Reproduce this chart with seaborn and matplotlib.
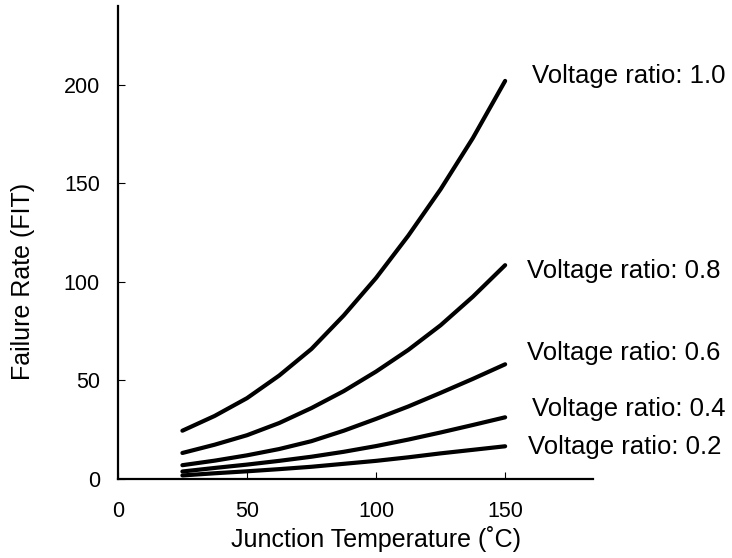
import pandas as pd
import seaborn as sns
from matplotlib import pyplot as plt

# junction temperature (degC) and failure rate (FIT) per voltage ratio
temps = [25, 37.5, 50, 62.5, 75, 87.5, 100, 112.5, 125, 137.5, 150]
fit_10 = [24.5, 32.0, 41.0, 52.5, 66.0, 83.0, 102.0, 123.5, 147.0, 173.0, 202.0]
fit_08 = [13.2, 17.4, 22.2, 28.4, 36.0, 44.6, 54.5, 65.5, 78.0, 92.5, 108.5]
fit_06 = [7.0, 9.3, 12.0, 15.2, 19.2, 24.5, 30.5, 36.8, 43.7, 50.8, 58.2]
fit_04 = [3.8, 5.6, 7.3, 9.2, 11.3, 13.8, 16.7, 20.0, 23.6, 27.4, 31.3]
fit_02 = [1.8, 2.9, 3.9, 5.0, 6.2, 7.7, 9.2, 11.0, 13.0, 14.8, 16.6]

ratios = ["1.0", "0.8", "0.6", "0.4", "0.2"]
series = [fit_10, fit_08, fit_06, fit_04, fit_02]
label_x = [160.5, 158.3, 158.3, 160.5, 159.0]
label_y = [201.0, 102.0, 60.4, 32.2, 12.9]

x_ticks = [0, 50, 100, 150]
y_ticks = [0, 50, 100, 150, 200]

df = pd.concat(
    [pd.DataFrame({"temp": temps, "fit": s, "ratio": r}) for r, s in zip(ratios, series)],
    ignore_index=True,
)

sns.set_style("ticks")
plt.rcParams["font.family"] = ["Liberation Sans", "DejaVu Sans"]
plt.rcParams["text.color"] = "black"
plt.rcParams["axes.labelcolor"] = "black"
plt.rcParams["xtick.color"] = "black"
plt.rcParams["ytick.color"] = "black"

fig = plt.figure(figsize=(7.32, 5.58), dpi=100)
ax = fig.add_axes([0.161, 0.1416, 0.649, 0.8476])

sns.lineplot(data=df, x="temp", y="fit", hue="ratio", hue_order=ratios,
             palette=["black"] * len(ratios), linewidth=3.0, legend=False,
             solid_capstyle="round", solid_joinstyle="round", ax=ax)

for r, lx, ly in zip(ratios, label_x, label_y):
    ax.text(lx, ly, f"Voltage ratio: {r}", fontsize=18.5, ha="left",
            va="baseline", clip_on=False)

ax.set_xlim(0, 184)
ax.set_ylim(0, 240)
ax.set_xticks(x_ticks)
ax.set_yticks(y_ticks)
ax.tick_params(direction="in", length=5, width=0.8, labelsize=15.5)
ax.tick_params(axis="x", pad=16)
ax.tick_params(axis="y", pad=13)

ax.set_xlabel("Junction Temperature (˚C)", fontsize=18)
ax.set_ylabel("Failure Rate (FIT)", fontsize=18)
ax.xaxis.set_label_coords(0.543, -0.1)
ax.yaxis.set_label_coords(-0.175, 0.417)

sns.despine(ax=ax)
for side in ["left", "bottom"]:
    ax.spines[side].set_linewidth(1.6)
    ax.spines[side].set_color("black")

fig.savefig("out.png", dpi=100)
